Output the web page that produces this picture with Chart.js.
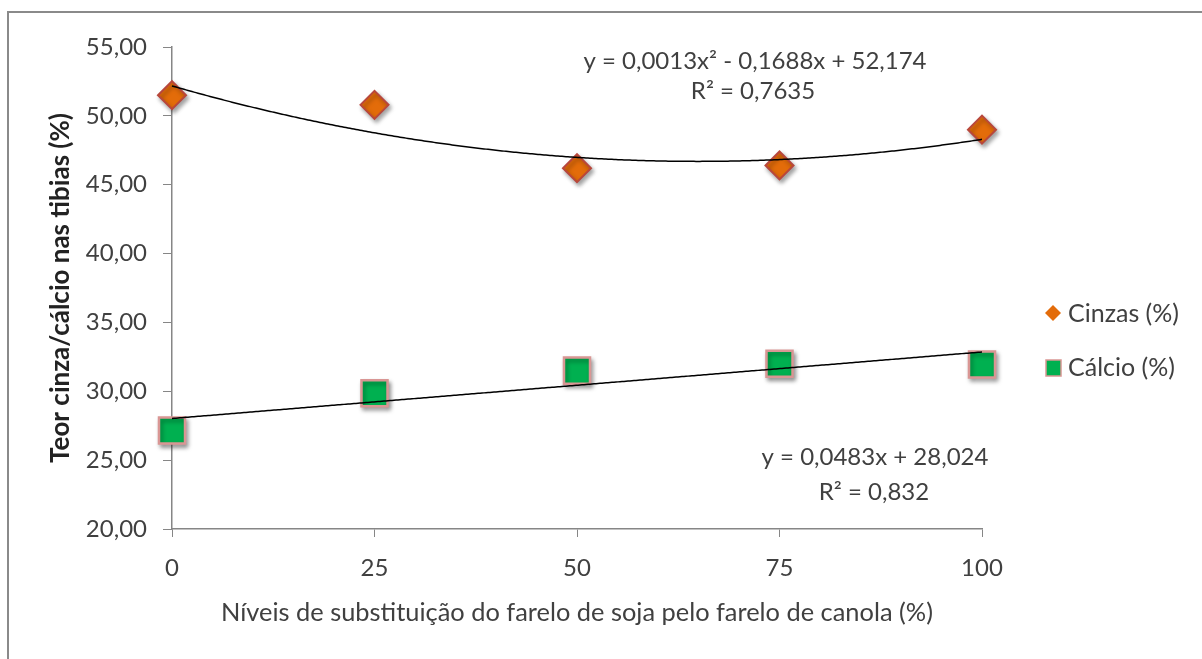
<!DOCTYPE html>
<html>
<head>
<meta charset="utf-8">
<script src="https://cdn.jsdelivr.net/npm/chart.js@4/dist/chart.umd.min.js"></script>
<style>
  html, body { margin: 0; padding: 0; background: #fff; }
  #wrap { width: 1202px; height: 659px; }
</style>
</head>
<body>
<div id="wrap"><canvas id="grafico" width="1202" height="659"></canvas></div>
<script>
// dados
var niveis = [0, 25, 50, 75, 100];
var cinzas = [51.5, 50.8, 46.2, 46.4, 49.0];
var calcio = [27.15, 29.85, 31.5, 32.0, 31.95];
var nomesSeries = ["Cinzas (%)", "Cálcio (%)"];

// linhas de tendencia (coeficientes c0, c1, c2 mostrados no grafico)
var tendCinzas = [52.174, -0.1688, 0.0013];
var tendCalcio = [28.024, 0.0483];
var eqCinzas = ["y = 0,0013x² - 0,1688x + 52,174", "R² = 0,7635"];
var eqCalcio = ["y = 0,0483x + 28,024", "R² = 0,832"];

var tituloX = "Níveis de substituição do farelo de soja pelo farelo de canola (%)";
var tituloY = "Teor cinza/cálcio nas tibias (%)";

var fonte = "Lato";
var corTexto = "#404040";
var corEixo = "#868686";
var corCinzas = "#E36C0A", bordaCinzas = "#B8473C";
var corCalcio = "#00B050", bordaCalcio = "#D99694";

Chart.defaults.font.family = fonte;
Chart.defaults.color = corTexto;

function avalia(coef, x) {
    var y = 0;
    for (var i = 0; i < coef.length; i++) {
        y += coef[i] * Math.pow(x, i);
    }
    return y;
}

//Desenha moldura, sombras, tendencias, equacoes e legenda
var extras = {
    id: "extras",
    beforeDraw: function (chart) {
        var ctx = chart.ctx;
        ctx.save();
        ctx.fillStyle = "#fff";
        ctx.fillRect(0, 0, chart.width, chart.height);
        ctx.strokeStyle = "#8a8a8a";
        ctx.lineWidth = 2;
        ctx.beginPath();
        ctx.moveTo(8, chart.height);
        ctx.lineTo(8, 12);
        ctx.lineTo(chart.width, 12);
        ctx.stroke();
        ctx.restore();
    },
    beforeDatasetsDraw: function (chart) {
        var ctx = chart.ctx;
        ctx.save();
        ctx.shadowColor = "rgba(0,0,0,0.35)";
        ctx.shadowBlur = 4;
        ctx.shadowOffsetX = 2;
        ctx.shadowOffsetY = 3;
    },
    afterDatasetsDraw: function (chart) {
        var ctx = chart.ctx;
        ctx.restore();
        var sx = chart.scales.x, sy = chart.scales.y;

        //curvas de tendencia
        [tendCinzas, tendCalcio].forEach(function (coef) {
            ctx.save();
            ctx.strokeStyle = "#000";
            ctx.lineWidth = 1.5;
            ctx.beginPath();
            for (var px = sx.left; px <= sx.right; px += 2) {
                var x = sx.getValueForPixel(px);
                var py = sy.getPixelForValue(avalia(coef, x));
                if (px === sx.left) ctx.moveTo(px, py); else ctx.lineTo(px, py);
            }
            ctx.stroke();
            ctx.restore();
        });

        //equacoes
        ctx.save();
        ctx.fillStyle = corTexto;
        ctx.font = "24px " + fonte;
        ctx.textAlign = "center";
        ctx.textBaseline = "middle";
        ctx.fillText(eqCinzas[0], 755, 61);
        ctx.fillText(eqCinzas[1], 753, 91);
        ctx.fillText(eqCalcio[0], 875, 457);
        ctx.fillText(eqCalcio[1], 874, 492);
        ctx.restore();

        //legenda
        ctx.save();
        ctx.font = "25px " + fonte;
        ctx.textBaseline = "middle";
        ctx.textAlign = "left";
        ctx.fillStyle = corCinzas;
        ctx.beginPath();
        ctx.moveTo(1053, 305);
        ctx.lineTo(1061, 313);
        ctx.lineTo(1053, 321);
        ctx.lineTo(1045, 313);
        ctx.closePath();
        ctx.fill();
        ctx.fillStyle = corCalcio;
        ctx.fillRect(1046, 360, 15, 16);
        ctx.strokeStyle = bordaCalcio;
        ctx.lineWidth = 1.5;
        ctx.strokeRect(1046, 360, 15, 16);
        ctx.fillStyle = corTexto;
        ctx.fillText(nomesSeries[0], 1068, 314);
        ctx.fillText(nomesSeries[1], 1068, 368);
        ctx.restore();
    }
};

var pontos = function (ys) {
    return niveis.map(function (x, i) { return { x: x, y: ys[i] }; });
};

var grafico = new Chart(document.getElementById("grafico").getContext("2d"), {
    type: "scatter",
    data: {
        datasets: [
            {
                label: nomesSeries[0],
                data: pontos(cinzas),
                pointStyle: "rectRot",
                pointRadius: 14,
                backgroundColor: corCinzas,
                borderColor: bordaCinzas,
                borderWidth: 2,
                clip: false
            },
            {
                label: nomesSeries[1],
                data: pontos(calcio),
                pointStyle: "rect",
                pointRadius: 18.4,
                backgroundColor: corCalcio,
                borderColor: bordaCalcio,
                borderWidth: 2.5,
                clip: false
            }
        ]
    },
    options: {
        responsive: false,
        animation: false,
        events: [],
        layout: { padding: { left: 10, top: 47, right: 220, bottom: 0 } },
        plugins: {
            legend: { display: false },
            tooltip: { enabled: false }
        },
        scales: {
            x: {
                type: "linear",
                min: 0,
                max: 100,
                afterFit: function (s) { s.height = 130; },
                ticks: {
                    stepSize: 25,
                    padding: 17,
                    font: { size: 24 },
                    color: corTexto
                },
                grid: {
                    drawOnChartArea: false,
                    drawTicks: true,
                    tickLength: 8,
                    color: corEixo
                },
                border: { display: true, color: corEixo, width: 1.5 },
                title: {
                    display: true,
                    text: tituloX,
                    font: { size: 25.4 },
                    color: corTexto,
                    padding: { top: 0, bottom: 31 }
                }
            },
            y: {
                min: 20,
                max: 55,
                afterFit: function (s) { s.width = 162; },
                ticks: {
                    stepSize: 5,
                    padding: 16,
                    font: { size: 24 },
                    color: corTexto,
                    callback: function (v) { return v.toFixed(2).replace(".", ","); }
                },
                grid: {
                    drawOnChartArea: false,
                    drawTicks: true,
                    tickLength: 9,
                    color: corEixo
                },
                border: { display: true, color: corEixo, width: 1.5 },
                title: {
                    display: true,
                    text: tituloY,
                    font: { size: 26, weight: "bold" },
                    color: "#222",
                    padding: { top: 35, bottom: 0 }
                }
            }
        }
    },
    plugins: [extras]
});
</script>
</body>
</html>
